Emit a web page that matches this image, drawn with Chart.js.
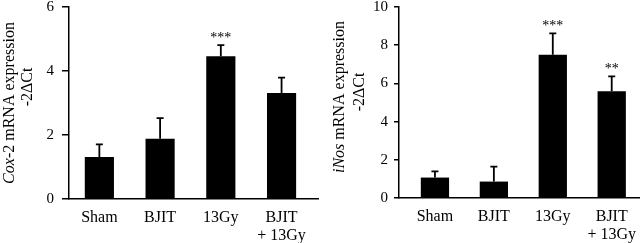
<!DOCTYPE html>
<html lang="en">
<head>
  <meta charset="UTF-8" />
  <title>Cox-2 / iNos mRNA expression</title>
  <script src="https://cdn.jsdelivr.net/npm/chart.js"></script>
  <style>
    html, body { margin: 0; padding: 0; background: #fff; }
    .wrap { display: flex; width: 640px; height: 243px; }
    .panel { position: relative; width: 320px; height: 243px; }
  </style>
</head>
<body>
  <div class="wrap">
    <div class="panel"><canvas id="cox2"></canvas></div>
    <div class="panel"><canvas id="inos"></canvas></div>
  </div>

  <script>
    // groups on the x axis
    const categories = ['Sham', 'BJIT', '13Gy', ['BJIT', '+ 13Gy']];

    // Cox-2 panel
    const cox2Means = [1.31, 1.88, 4.46, 3.31];
    const cox2Errors = [0.40, 0.65, 0.35, 0.48];
    const cox2Stars = ['', '', '***', ''];
    const cox2Ticks = [0, 2, 4, 6];

    // iNos panel
    const inosMeans = [1.07, 0.86, 7.50, 5.59];
    const inosErrors = [0.32, 0.78, 1.12, 0.78];
    const inosStars = ['', '', '***', '**'];
    const inosTicks = [0, 2, 4, 6, 8, 10];

    const SERIF = '"Liberation Serif", "DejaVu Serif", serif';
    Chart.defaults.font.family = SERIF;
    Chart.defaults.color = '#000';

    // one-sided error bars + significance stars
    const errorBars = {
      id: 'errorBars',
      afterDatasetsDraw(chart, args, opts) {
        const ctx = chart.ctx;
        const y = chart.scales.y;
        const meta = chart.getDatasetMeta(0);
        ctx.save();
        ctx.strokeStyle = '#000';
        ctx.lineWidth = 1.8;
        meta.data.forEach((bar, i) => {
          const top = y.getPixelForValue(opts.means[i] + opts.errors[i]);
          ctx.beginPath();
          ctx.moveTo(bar.x, bar.y);
          ctx.lineTo(bar.x, top);
          ctx.moveTo(bar.x - 3.5, top);
          ctx.lineTo(bar.x + 3.5, top);
          ctx.stroke();
          if (opts.stars[i]) {
            ctx.fillStyle = '#000';
            ctx.font = '14px ' + SERIF;
            ctx.textAlign = 'center';
            ctx.textBaseline = 'alphabetic';
            ctx.fillText(opts.stars[i], bar.x, top - 3);
          }
        });
        ctx.restore();
      }
    };

    // rotated two-line y title with italic gene name
    const yTitle = {
      id: 'yTitle',
      afterDraw(chart, args, opts) {
        const ctx = chart.ctx;
        ctx.save();
        ctx.fillStyle = '#000';
        ctx.textBaseline = 'middle';
        ctx.textAlign = 'left';
        opts.lines.forEach(line => {
          const parts = line.parts;
          let total = 0;
          parts.forEach(p => {
            ctx.font = (p.italic ? 'italic ' : '') + '16px ' + SERIF;
            total += ctx.measureText(p.text).width;
          });
          ctx.translate(line.x, line.y);
          ctx.rotate(-Math.PI / 2);
          let pos = -total / 2;
          parts.forEach(p => {
            ctx.font = (p.italic ? 'italic ' : '') + '16px ' + SERIF;
            ctx.fillText(p.text, pos, 0);
            pos += ctx.measureText(p.text).width;
          });
          ctx.setTransform(1, 0, 0, 1, 0, 0);
        });
        ctx.restore();
      }
    };

    function makeChart(id, means, errors, stars, ticks, cfg) {
      return new Chart(document.getElementById(id), {
        type: 'bar',
        data: {
          datasets: [{
            data: means.map((v, i) => ({ x: i, y: v })),
            backgroundColor: '#000',
            borderWidth: 0,
            categoryPercentage: 1,
            barPercentage: 0.48
          }]
        },
        options: {
          responsive: true,
          maintainAspectRatio: false,
          animation: false,
          layout: { padding: { top: 7, right: cfg.padRight, left: 0, bottom: 0 } },
          plugins: {
            legend: { display: false },
            tooltip: { enabled: false },
            errorBars: { means: means, errors: errors, stars: stars },
            yTitle: { lines: cfg.title }
          },
          scales: {
            x: {
              type: 'linear',
              offset: false,
              min: cfg.xMin,
              max: cfg.xMax,
              grid: { display: false },
              border: { display: true, color: '#000', width: 1.5 },
              ticks: {
                padding: 2,
                font: { size: 16, lineHeight: 1.12 },
                maxRotation: 0,
                autoSkip: false,
                callback: v => categories[v]
              },
              afterBuildTicks: s => { s.ticks = categories.map((c, i) => ({ value: i })); },
              afterFit: s => {
                s.height = cfg.xHeight;
                s.paddingLeft = 0;
                s.paddingRight = 0;
              }
            },
            y: {
              min: 0,
              max: ticks[ticks.length - 1],
              grid: {
                drawOnChartArea: false,
                drawTicks: true,
                tickLength: cfg.tickLen,
                color: '#000',
                lineWidth: 1.5
              },
              border: { display: true, color: '#000', width: 1.5 },
              ticks: {
                padding: cfg.tickPad,
                font: { size: 15 },
                stepSize: 2
              },
              afterBuildTicks: s => { s.ticks = ticks.map(v => ({ value: v })); },
              afterFit: s => {
                s.width = cfg.yWidth;
                s.paddingTop = 0;
                s.paddingBottom = 0;
              }
            }
          }
        },
        plugins: [errorBars, yTitle]
      });
    }

    makeChart('cox2', cox2Means, cox2Errors, cox2Stars, cox2Ticks, {
      xMin: -0.5, xMax: 3.6, padRight: 2, xHeight: 44, yWidth: 69,
      tickLen: 7, tickPad: 8,
      title: [
        { x: 10, y: 103, parts: [{ text: 'Cox', italic: true }, { text: '-2 mRNA expression' }] },
        { x: 28, y: 87, parts: [{ text: '-2ΔCt' }] }
      ]
    });

    makeChart('inos', inosMeans, inosErrors, inosStars, inosTicks, {
      xMin: -0.61, xMax: 3.48, padRight: 0, xHeight: 45, yWidth: 79,
      tickLen: 5, tickPad: 6,
      title: [
        { x: 20, y: 97, parts: [{ text: 'iNos', italic: true }, { text: ' mRNA expression' }] },
        { x: 40, y: 92, parts: [{ text: '-2ΔCt' }] }
      ]
    });
  </script>
</body>
</html>
